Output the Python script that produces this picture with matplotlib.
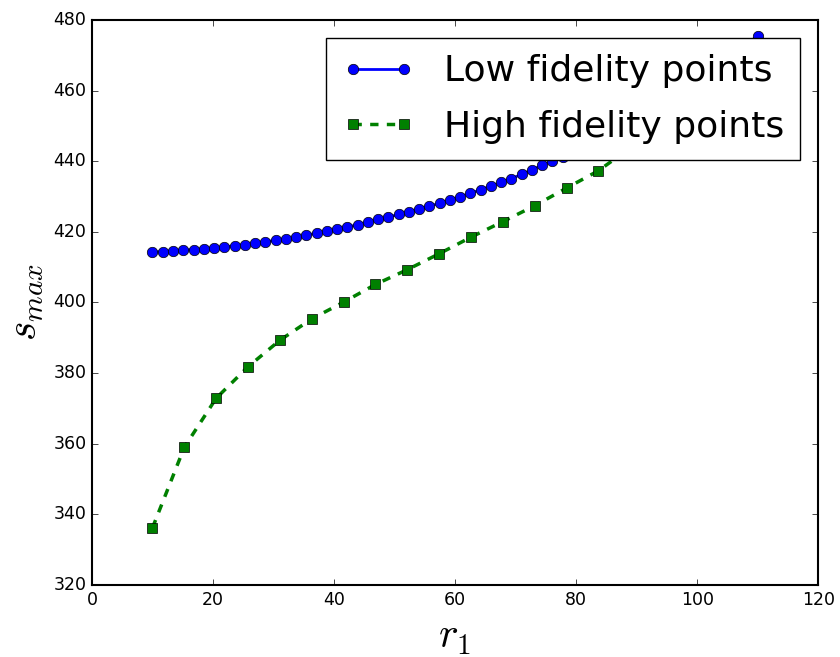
import matplotlib
matplotlib.use('Agg')
import matplotlib.pyplot as plt

plt.style.use('classic')

# --- data ---
low_r1 = [10.00, 11.69, 13.39, 15.08, 16.78, 18.47, 20.17, 21.86, 23.56, 25.25,
          26.95, 28.64, 30.34, 32.03, 33.73, 35.42, 37.12, 38.81, 40.51, 42.20,
          43.90, 45.59, 47.29, 48.98, 50.68, 52.37, 54.07, 55.76, 57.46, 59.15,
          60.85, 62.54, 64.24, 65.93, 67.63, 69.32, 71.02, 72.71, 74.41, 76.10,
          77.80, 79.49, 81.19, 82.88, 84.58, 86.27, 87.97, 89.66, 91.36, 93.05,
          94.75, 96.44, 98.14, 99.83, 101.53, 103.22, 104.92, 106.61, 108.31, 110.00]
low_smax = [414.25, 414.4, 414.6, 414.8, 415.0, 415.2, 415.5, 415.75, 416.0, 416.4,
            416.8, 417.2, 417.6, 418.0, 418.5, 419.1, 419.6, 420.2, 420.8, 421.4,
            422.0, 422.7, 423.5, 424.2, 424.95, 425.7, 426.5, 427.3, 428.1, 429.0,
            429.95, 430.95, 431.95, 432.95, 434.0, 435.1, 436.3, 437.55, 438.9, 440.1,
            441.2, 442.6, 443.9, 445.2, 446.6, 448.0, 449.5, 451.0, 452.6, 454.3,
            456.1, 457.9, 459.9, 461.9, 464.0, 466.2, 468.45, 470.75, 473.15, 475.6]

high_r1 = [10.00, 15.26, 20.53, 25.79, 31.05, 36.32, 41.58, 46.84, 52.11, 57.37,
           62.63, 67.89, 73.16, 78.42, 83.68, 88.95, 94.21, 99.47, 104.74, 110.00]
high_smax = [336.2, 359.0, 372.9, 381.8, 389.3, 395.35, 400.1, 405.1, 409.3, 413.8,
             418.5, 422.9, 427.4, 432.4, 437.3, 443.8, 449.0, 454.3, 459.6, 465.0]

fig = plt.figure(figsize=(8.4, 6.57), dpi=100)
ax = fig.add_axes([0.1095, 0.1096, 0.8645, 0.86])

ax.plot(low_r1, low_smax, 'b-o', linewidth=2, markersize=7.5,
        label='Low fidelity points')
ax.plot(high_r1, high_smax, 'g--s', linewidth=2.5, markersize=7,
        label='High fidelity points')

ax.set_xlim(0, 120)
ax.set_ylim(320, 480)
ax.tick_params(labelsize=12.5)
for sp in ax.spines.values():
    sp.set_linewidth(1.5)

ax.set_xlabel(r'$r_1$', fontsize=30)
ax.set_ylabel(r'$s_{max}$', fontsize=30)

ax.legend(loc='upper right', fontsize=26, numpoints=2,
          borderpad=0.45, labelspacing=0.6)

fig.savefig('out.png', dpi=100)
